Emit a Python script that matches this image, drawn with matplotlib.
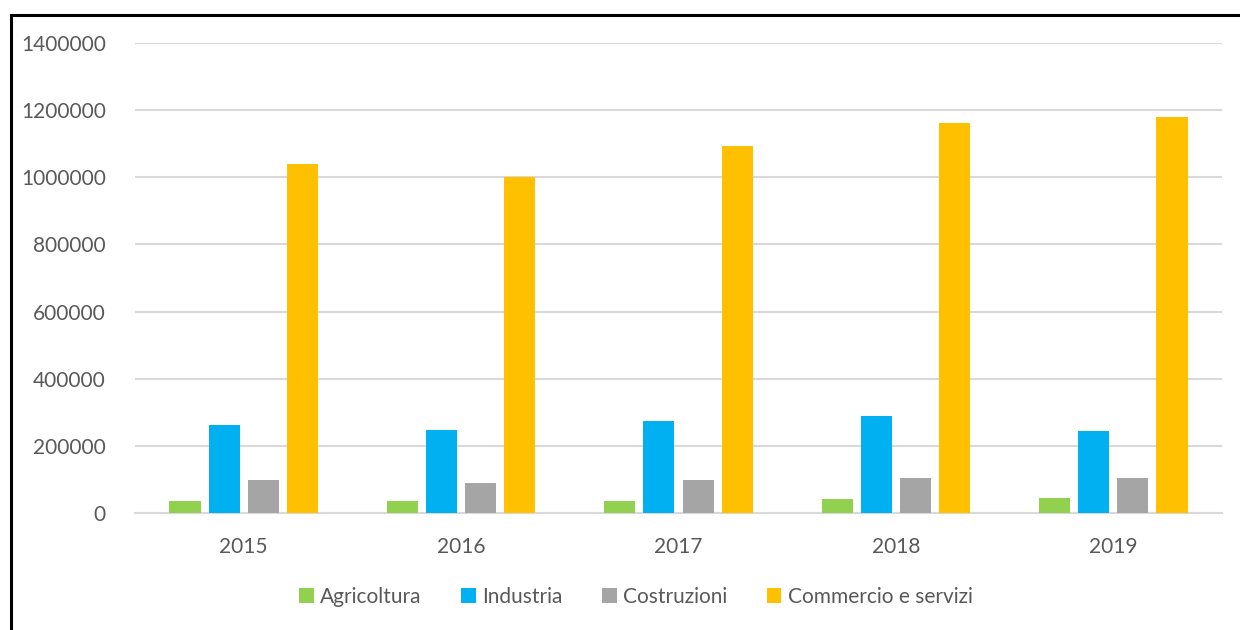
import matplotlib
matplotlib.use("Agg")
import matplotlib.pyplot as plt
import numpy as np
from matplotlib.patches import Rectangle

years = ["2015", "2016", "2017", "2018", "2019"]
series_names = ["Agricoltura", "Industria", "Costruzioni", "Commercio e servizi"]
agricoltura = [37000, 37000, 37000, 41000, 44000]
industria = [263000, 246000, 273000, 290000, 245000]
costruzioni = [97000, 90000, 97000, 104000, 104000]
commercio = [1040000, 1000000, 1093000, 1162000, 1181000]
colors = ["#92d050", "#00b0f0", "#a5a5a5", "#ffc000"]
y_ticks = [0, 200000, 400000, 600000, 800000, 1000000, 1200000, 1400000]

plt.rcParams["font.family"] = ["Lato", "DejaVu Sans"]
text_color = "#595959"

fig = plt.figure(figsize=(12.4, 6.3), dpi=100)
ax = fig.add_axes([135 / 1240, 1 - 513 / 630, (1222 - 135) / 1240, 470 / 630])

x = np.arange(len(years))
width = 0.143
step = 0.18
values = [agricoltura, industria, costruzioni, commercio]
for i, (vals, name, col) in enumerate(zip(values, series_names, colors)):
    ax.bar(x + (i - 1.5) * step, vals, width=width, color=col, label=name, zorder=3)

ax.set_xlim(-0.5, len(years) - 0.5)
ax.set_ylim(0, 1400000)
ax.set_yticks(y_ticks)
ax.set_yticklabels([str(v) for v in y_ticks])
ax.set_xticks(x)
ax.set_xticklabels(years)
ax.tick_params(axis="both", length=0, labelsize=15, colors=text_color)
ax.tick_params(axis="y", pad=21)
ax.tick_params(axis="x", pad=17)
ax.yaxis.grid(True, color="#d9d9d9", linewidth=1.5, zorder=0)
ax.set_axisbelow(True)
for s in ["top", "right", "left"]:
    ax.spines[s].set_visible(False)
ax.spines["bottom"].set_color("#d9d9d9")
ax.spines["bottom"].set_linewidth(1.5)
ax.spines["bottom"].set_zorder(1)

leg = fig.legend(loc="center", bbox_to_anchor=(636 / 1240, 1 - 597 / 630), ncol=4,
                 frameon=False, fontsize=15, handlelength=0.7, handleheight=0.7,
                 handletextpad=0.3, columnspacing=1.9)
for t in leg.get_texts():
    t.set_color(text_color)

# outer chart border (left and top edges visible)
fig.patches.append(Rectangle((10.5 / 1240, -0.1), 1.2, 1 - 14.5 / 630 + 0.1,
                             transform=fig.transFigure, fill=False,
                             edgecolor="black", linewidth=2.2))

fig.savefig("out.png", dpi=100)
